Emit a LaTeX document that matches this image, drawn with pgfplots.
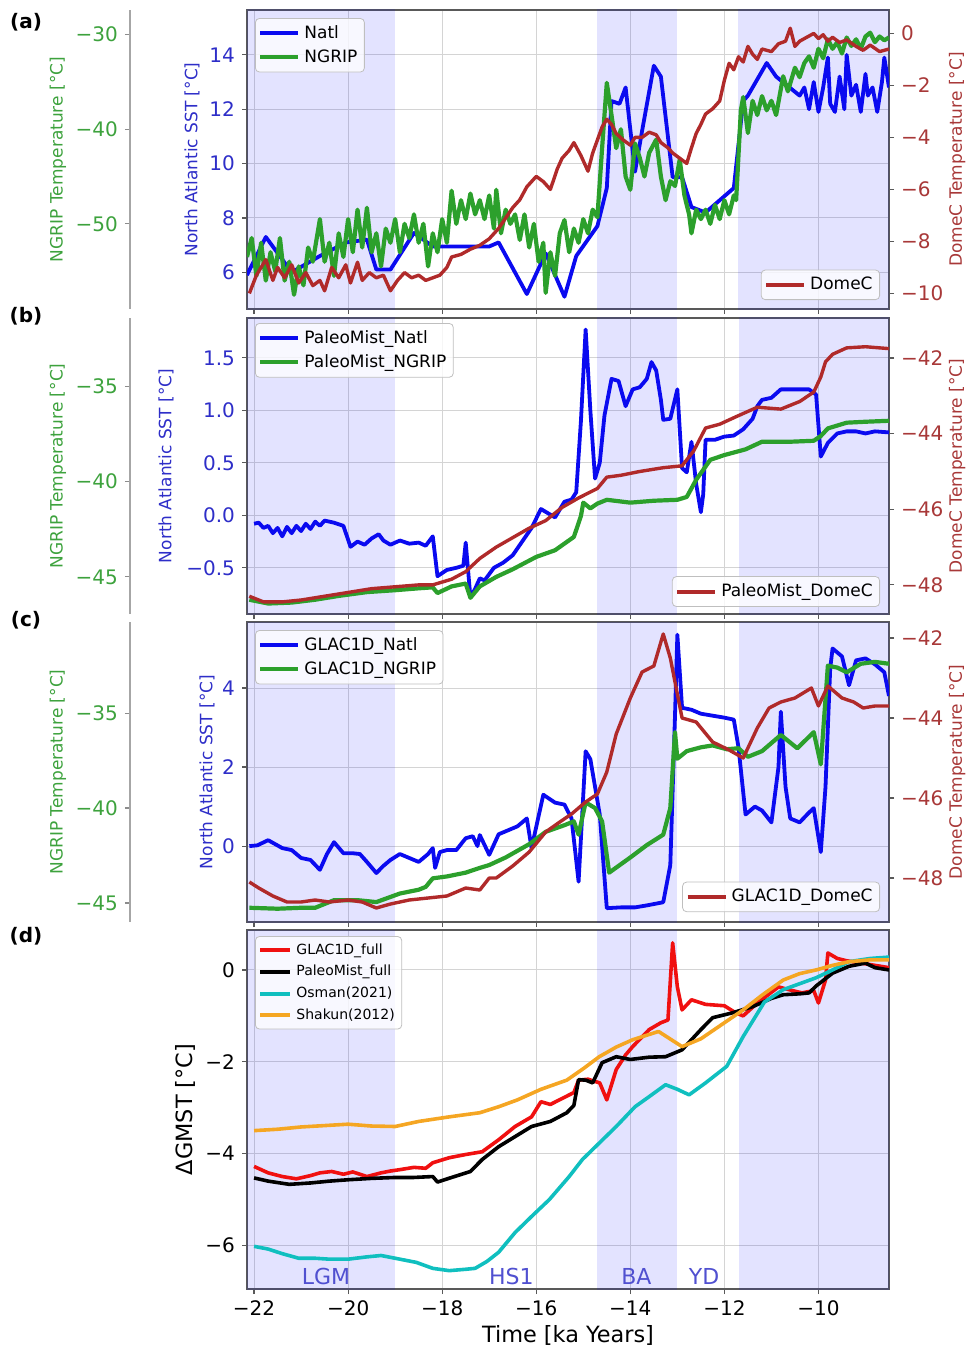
\documentclass[border=0pt]{standalone}
\usepackage{fontspec}
\setmainfont{DejaVu Sans}
\usepackage{pgfplots}
\pgfplotsset{compat=1.18}

\definecolor{natl}{HTML}{0A0AF0}
\definecolor{ngrip}{HTML}{2CA02C}
\definecolor{domec}{HTML}{B02A2A}
\definecolor{natlt}{HTML}{2E2EC8}
\definecolor{domect}{HTML}{A83838}
\definecolor{ngript}{HTML}{3DA23D}
\definecolor{shade}{HTML}{0000FF}
\definecolor{regc}{HTML}{5050D0}
\definecolor{dred}{HTML}{F01010}
\definecolor{dcyan}{HTML}{10BFBF}
\definecolor{dorange}{HTML}{F5A623}

\pgfplotsset{
 base/.style={scale only axis, width=321pt, xmin=-22.15, xmax=-8.5, anchor=north west,
   tick align=outside, major tick length=2.5pt,
   tick label style={font=\fontsize{10}{12}\selectfont},
   legend cell align=left,
   legend style={font=\fontsize{8.5}{10}\selectfont, draw=black!25, rounded corners=2pt, fill=white, fill opacity=0.8, text opacity=1, inner sep=1.5pt},
   legend image code/.code={\draw[#1, line width=2pt] (0pt,0pt) -- (19pt,0pt);}},
 main/.style={base, axis line style={black!65, line width=0.7pt}, grid=major, grid style={black!17, line width=0.5pt},
   xtick={-22,-20,...,-10}, tick pos=left, tick style={black!65, line width=0.6pt}},
 natlab/.style={every axis y label/.style={at={(axis description cs:#1,0.5)}, rotate=90, anchor=center, color=natlt, font=\fontsize{8.5}{10}\selectfont}},
 ng/.style={base, axis x line=none, axis y line*=left, axis y line shift=58.5pt,
   y axis line style={black!35, line width=0.7pt}, ytick style={black!45, line width=0.6pt},
   y tick label style={color=ngript},
   every axis y label/.style={at={(axis description cs:-0.2944,0.5)}, rotate=90, anchor=center, color=ngript, font=\fontsize{8.5}{10}\selectfont}},
 dc/.style={base, axis x line=none, axis y line*=right, y axis line style={draw=none},
   ytick style={black!65, line width=0.6pt}, y tick label style={color=domect},
   every axis y label/.style={at={(axis description cs:1.106,0.5)}, rotate=90, anchor=center, color=domect, font=\fontsize{8.5}{10}\selectfont}},
 natlL/.style={natl, line width=1.9pt, line join=round},
 ngL/.style={ngrip, line width=2.1pt, line join=round},
 dcL/.style={domec, line width=1.7pt, line join=round},
}
\newcommand{\shades}[2]{%
 \addplot[draw=none, fill=shade, fill opacity=0.11, forget plot] coordinates {(-22.5,#1) (-19,#1) (-19,#2) (-22.5,#2)};
 \addplot[draw=none, fill=shade, fill opacity=0.11, forget plot] coordinates {(-14.7,#1) (-13.0,#1) (-13.0,#2) (-14.7,#2)};
 \addplot[draw=none, fill=shade, fill opacity=0.11, forget plot] coordinates {(-11.7,#1) (-8,#1) (-8,#2) (-11.7,#2)};
}

\begin{document}
\begin{tikzpicture}
\useasboundingbox (0,0) rectangle (483.5pt,-674.5pt);

% ---------------- Panel a ----------------
\begin{axis}[main, natlab=-0.0857, at={(123.5pt,-5pt)}, height=149.5pt, ymin=4.65, ymax=15.65,
  ytick={6,8,10,12,14}, yticklabels={6,8,10,12,14}, xticklabels={},
  y tick label style={color=natlt}, ylabel={North Atlantic SST [°C]}]
\shades{0}{20}
\addplot[natlL] coordinates {(-22.15,5.9) (-21.75,7.3) (-21.2,6.0) (-20.6,6.6) (-20.04,7.1) (-19.6,7.2) (-19.4,6.1) (-19.1,6.1) (-18.6,7.45) (-18.2,6.95) (-17.0,6.95) (-16.8,7.1) (-16.2,5.2) (-15.8,6.7) (-15.4,5.1) (-15.15,6.6) (-14.7,7.7) (-14.5,9.1) (-14.4,12.3) (-14.23,12.2) (-14.1,12.8) (-13.9,9.7) (-13.75,11.2) (-13.5,13.6) (-13.35,13.2) (-13.1,9.5) (-12.9,9.5) (-12.7,8.4) (-12.4,8.2) (-11.8,9.1) (-11.6,12.3) (-11.5,12.5) (-11.1,13.7) (-10.9,13.2) (-10.4,12.5) (-10.3,12.8) (-10.2,12.0) (-10.1,13.0) (-10.0,11.9) (-9.9,12.8) (-9.8,13.9) (-9.75,12.2) (-9.65,11.9) (-9.55,13.2) (-9.45,12.0) (-9.4,14.0) (-9.3,12.5) (-9.2,12.9) (-9.1,11.9) (-9.0,13.3) (-8.95,12.5) (-8.85,12.8) (-8.75,11.9) (-8.65,13.0) (-8.6,13.9) (-8.5,12.8)};
\end{axis}
\begin{axis}[ng, at={(123.5pt,-5pt)}, height=149.5pt, ymin=-59, ymax=-27.4,
  ytick={-50,-40,-30}, yticklabels={−50,−40,−30}, ylabel={NGRIP Temperature [°C]},
  legend style={at={(0.0125,0.973)}, anchor=north west}]
\addlegendimage{natlL}\addlegendentry{Natl}
\addplot[ngL] coordinates {(-22.15,-53.5) (-22.05,-51.5) (-21.95,-55.5) (-21.85,-52) (-21.75,-56) (-21.65,-53) (-21.55,-55) (-21.45,-51.5) (-21.35,-56) (-21.25,-54) (-21.15,-57.5) (-21.05,-54.5) (-20.95,-56.5) (-20.85,-52.5) (-20.75,-54) (-20.6,-49.5) (-20.5,-54) (-20.4,-52) (-20.3,-55.5) (-20.2,-51) (-20.1,-53.5) (-20.0,-49.5) (-19.9,-53) (-19.8,-48.5) (-19.7,-52.5) (-19.6,-48.3) (-19.5,-53) (-19.4,-51) (-19.3,-54.5) (-19.2,-50.5) (-19.1,-52) (-19.0,-49.5) (-18.9,-53) (-18.8,-50) (-18.7,-51.5) (-18.6,-49) (-18.5,-52) (-18.4,-50) (-18.3,-54.5) (-18.2,-51) (-18.1,-53) (-18.0,-49.5) (-17.9,-52) (-17.8,-46.5) (-17.7,-50) (-17.6,-47.5) (-17.5,-49.5) (-17.4,-46.8) (-17.3,-49) (-17.2,-47.5) (-17.1,-49.5) (-17.0,-47) (-16.9,-50.5) (-16.85,-46.4) (-16.75,-51) (-16.65,-48.5) (-16.55,-50) (-16.45,-49) (-16.35,-51.7) (-16.25,-49) (-16.15,-52.5) (-16.05,-50) (-15.95,-54) (-15.85,-52) (-15.8,-57.3) (-15.7,-53) (-15.6,-55.5) (-15.5,-51) (-15.4,-49.6) (-15.3,-53) (-15.2,-50.5) (-15.1,-52) (-15.0,-49.5) (-14.9,-51) (-14.8,-48.5) (-14.7,-49.3) (-14.6,-42) (-14.5,-35.1) (-14.4,-38.5) (-14.3,-42) (-14.2,-40) (-14.1,-45) (-14.0,-46.4) (-13.9,-41.5) (-13.8,-43) (-13.7,-45) (-13.6,-42.5) (-13.45,-41.1) (-13.35,-45) (-13.25,-47.5) (-13.15,-45.5) (-13.05,-46) (-12.95,-43.2) (-12.85,-47) (-12.75,-49) (-12.7,-51) (-12.6,-48.5) (-12.5,-49.5) (-12.4,-48.5) (-12.3,-50) (-12.2,-48) (-12.1,-49.5) (-12.0,-47.5) (-11.9,-49) (-11.8,-47) (-11.75,-47.5) (-11.65,-38) (-11.6,-36.6) (-11.5,-40.4) (-11.4,-37) (-11.3,-38.5) (-11.2,-36.5) (-11.1,-38) (-11.0,-37) (-10.9,-38.5) (-10.75,-34.4) (-10.65,-36) (-10.5,-33.5) (-10.4,-34.5) (-10.3,-33) (-10.2,-32.3) (-10.1,-33.5) (-10.0,-31.5) (-9.9,-32.5) (-9.8,-30.5) (-9.7,-31.5) (-9.6,-30.8) (-9.5,-32) (-9.4,-30.3) (-9.3,-31.2) (-9.2,-30.5) (-9.1,-31.5) (-9.0,-30.2) (-8.9,-29.8) (-8.8,-30.8) (-8.7,-30.2) (-8.6,-30.6) (-8.5,-30.3)};
\addlegendentry{NGRIP}
\end{axis}
\begin{axis}[dc, at={(123.5pt,-5pt)}, height=149.5pt, ymin=-10.6, ymax=0.9,
  ytick={-10,-8,-6,-4,-2,0}, yticklabels={−10,−8,−6,−4,−2,0}, ylabel={DomeC Temperature [°C]},
  legend style={at={(0.986,0.03)}, anchor=south east}]
\addplot[dcL] coordinates {(-22.1,-10.0) (-21.95,-9.3) (-21.75,-8.7) (-21.6,-9.5) (-21.5,-9.0) (-21.35,-9.4) (-21.2,-8.9) (-21.05,-9.6) (-20.9,-9.2) (-20.75,-9.7) (-20.6,-9.5) (-20.5,-9.9) (-20.35,-9.0) (-20.2,-9.4) (-20.05,-8.9) (-19.95,-9.6) (-19.8,-8.8) (-19.7,-9.5) (-19.55,-9.2) (-19.4,-9.4) (-19.25,-9.3) (-19.1,-9.9) (-18.95,-9.5) (-18.8,-9.2) (-18.65,-9.4) (-18.5,-9.3) (-18.35,-9.5) (-18.2,-9.4) (-18.05,-9.3) (-17.9,-9.0) (-17.8,-8.6) (-17.6,-8.5) (-17.4,-8.3) (-17.2,-8.15) (-17.0,-7.9) (-16.8,-7.5) (-16.65,-7.1) (-16.5,-6.7) (-16.35,-6.4) (-16.2,-5.9) (-16.0,-5.5) (-15.85,-5.7) (-15.7,-6.0) (-15.55,-5.2) (-15.45,-4.8) (-15.3,-4.5) (-15.2,-4.2) (-15.05,-4.7) (-14.9,-5.3) (-14.8,-4.6) (-14.7,-4.1) (-14.6,-3.6) (-14.5,-3.3) (-14.4,-3.5) (-14.3,-3.85) (-14.15,-4.1) (-14.0,-4.3) (-13.9,-4.0) (-13.75,-4.0) (-13.6,-3.8) (-13.45,-3.9) (-13.35,-4.2) (-13.2,-4.4) (-13.1,-4.6) (-12.95,-4.8) (-12.8,-5.0) (-12.7,-4.4) (-12.6,-3.85) (-12.5,-3.5) (-12.4,-3.1) (-12.25,-2.9) (-12.1,-2.6) (-12.0,-1.8) (-11.9,-1.15) (-11.8,-1.4) (-11.7,-0.9) (-11.6,-1.1) (-11.5,-0.5) (-11.4,-0.8) (-11.3,-1.0) (-11.2,-0.6) (-11.0,-0.7) (-10.85,-0.4) (-10.7,-0.3) (-10.6,0.2) (-10.5,-0.5) (-10.4,-0.3) (-10.25,-0.15) (-10.1,0.0) (-10.0,-0.2) (-9.9,-0.05) (-9.8,-0.3) (-9.7,-0.15) (-9.55,-0.35) (-9.4,-0.25) (-9.2,-0.5) (-9.05,-0.65) (-8.9,-0.45) (-8.7,-0.7) (-8.5,-0.6)};
\addlegendentry{DomeC}
\end{axis}

% ---------------- Panel b ----------------
\begin{axis}[main, natlab=-0.126, at={(123.5pt,-159pt)}, height=148pt, ymin=-0.94, ymax=1.88,
  ytick={-0.5,0,0.5,1,1.5}, yticklabels={−0.5,0.0,0.5,1.0,1.5}, xticklabels={},
  y tick label style={color=natlt}, ylabel={North Atlantic SST [°C]}]
\shades{-5}{5}
\addplot[natlL] coordinates {(-22.0,-0.08) (-21.9,-0.07) (-21.8,-0.12) (-21.7,-0.1) (-21.6,-0.17) (-21.5,-0.12) (-21.4,-0.2) (-21.3,-0.11) (-21.2,-0.17) (-21.1,-0.1) (-21.0,-0.15) (-20.9,-0.08) (-20.8,-0.13) (-20.7,-0.06) (-20.6,-0.1) (-20.5,-0.05) (-20.3,-0.07) (-20.1,-0.1) (-19.95,-0.3) (-19.8,-0.25) (-19.65,-0.28) (-19.5,-0.22) (-19.35,-0.18) (-19.25,-0.24) (-19.1,-0.28) (-18.9,-0.24) (-18.7,-0.27) (-18.5,-0.26) (-18.35,-0.29) (-18.2,-0.2) (-18.1,-0.58) (-17.9,-0.52) (-17.7,-0.5) (-17.55,-0.48) (-17.5,-0.26) (-17.4,-0.78) (-17.3,-0.7) (-17.2,-0.6) (-17.1,-0.62) (-16.9,-0.5) (-16.7,-0.45) (-16.5,-0.38) (-16.3,-0.25) (-16.1,-0.12) (-15.9,0.06) (-15.75,0.02) (-15.6,-0.02) (-15.4,0.13) (-15.25,0.15) (-15.15,0.22) (-15.05,0.9) (-14.95,1.77) (-14.85,1.0) (-14.75,0.35) (-14.65,0.5) (-14.55,0.95) (-14.4,1.3) (-14.25,1.28) (-14.1,1.04) (-13.95,1.2) (-13.8,1.22) (-13.65,1.3) (-13.55,1.46) (-13.45,1.38) (-13.35,1.1) (-13.3,0.91) (-13.15,0.92) (-13.0,1.2) (-12.9,0.45) (-12.8,0.41) (-12.7,0.7) (-12.6,0.3) (-12.5,0.03) (-12.45,0.2) (-12.4,0.72) (-12.2,0.72) (-12.0,0.75) (-11.8,0.76) (-11.6,0.82) (-11.4,0.92) (-11.3,1.04) (-11.2,1.1) (-11.0,1.12) (-10.8,1.2) (-10.5,1.2) (-10.2,1.2) (-10.05,1.15) (-9.95,0.56) (-9.8,0.69) (-9.6,0.78) (-9.4,0.8) (-9.2,0.8) (-9.0,0.78) (-8.8,0.8) (-8.5,0.79)};
\end{axis}
\begin{axis}[ng, at={(123.5pt,-159pt)}, height=148pt, ymin=-46.95, ymax=-31.4,
  ytick={-45,-40,-35}, yticklabels={−45,−40,−35}, ylabel={NGRIP Temperature [°C]},
  legend style={at={(0.0125,0.983)}, anchor=north west}]
\addlegendimage{natlL}\addlegendentry{PaleoMist\_Natl}
\addplot[ngL] coordinates {(-22.1,-46.2) (-21.7,-46.4) (-21.2,-46.35) (-20.7,-46.2) (-20.2,-46.0) (-19.6,-45.8) (-19.0,-45.7) (-18.5,-45.6) (-18.2,-45.55) (-18.1,-45.85) (-17.8,-45.5) (-17.5,-45.35) (-17.4,-46.1) (-17.2,-45.5) (-16.85,-45.0) (-16.5,-44.6) (-16.0,-43.95) (-15.6,-43.6) (-15.2,-42.9) (-15.05,-41.8) (-15.0,-41.1) (-14.85,-41.4) (-14.7,-41.15) (-14.5,-40.95) (-14.0,-41.1) (-13.5,-41.0) (-13.0,-40.95) (-12.8,-40.8) (-12.6,-39.9) (-12.3,-38.85) (-12.0,-38.6) (-11.55,-38.3) (-11.2,-37.9) (-10.6,-37.9) (-10.1,-37.85) (-9.95,-37.6) (-9.8,-37.2) (-9.4,-36.9) (-9.0,-36.85) (-8.5,-36.8)};
\addlegendentry{PaleoMist\_NGRIP}
\end{axis}
\begin{axis}[dc, at={(123.5pt,-159pt)}, height=148pt, ymin=-48.77, ymax=-40.94,
  ytick={-48,-46,-44,-42}, yticklabels={−48,−46,−44,−42}, ylabel={DomeC Temperature [°C]},
  legend style={at={(0.986,0.024)}, anchor=south east}]
\addplot[dcL] coordinates {(-22.1,-48.3) (-21.8,-48.45) (-21.4,-48.45) (-21.0,-48.4) (-20.5,-48.3) (-20.0,-48.2) (-19.5,-48.1) (-19.0,-48.05) (-18.5,-48.0) (-18.2,-48.0) (-17.8,-47.85) (-17.5,-47.65) (-17.2,-47.3) (-16.85,-47.0) (-16.5,-46.75) (-16.15,-46.5) (-15.8,-46.3) (-15.45,-45.95) (-15.1,-45.7) (-14.7,-45.45) (-14.5,-45.15) (-14.2,-45.1) (-13.8,-45.0) (-13.3,-44.9) (-12.9,-44.85) (-12.65,-44.45) (-12.4,-43.85) (-12.1,-43.75) (-11.75,-43.55) (-11.3,-43.3) (-10.8,-43.35) (-10.4,-43.15) (-10.1,-42.9) (-9.95,-42.5) (-9.85,-42.1) (-9.7,-41.9) (-9.4,-41.73) (-9.0,-41.7) (-8.5,-41.75)};
\addlegendentry{PaleoMist\_DomeC}
\end{axis}

% ---------------- Panel c ----------------
\begin{axis}[main, natlab=-0.0623, at={(123.5pt,-311pt)}, height=150pt, ymin=-1.92, ymax=5.67,
  ytick={0,2,4}, yticklabels={0,2,4}, xticklabels={},
  y tick label style={color=natlt}, ylabel={North Atlantic SST [°C]}]
\shades{-10}{10}
\addplot[natlL] coordinates {(-22.1,0.0) (-21.93,0.02) (-21.7,0.15) (-21.55,0.05) (-21.4,-0.05) (-21.2,-0.1) (-21.0,-0.3) (-20.8,-0.35) (-20.6,-0.6) (-20.45,-0.2) (-20.3,0.1) (-20.1,-0.18) (-19.9,-0.18) (-19.75,-0.2) (-19.6,-0.4) (-19.4,-0.68) (-19.25,-0.5) (-19.1,-0.35) (-18.9,-0.2) (-18.7,-0.3) (-18.5,-0.4) (-18.3,-0.2) (-18.2,-0.05) (-18.15,-0.55) (-18.05,-0.15) (-17.9,-0.1) (-17.7,-0.1) (-17.5,0.2) (-17.35,0.25) (-17.25,0.0) (-17.2,0.28) (-17.0,-0.22) (-16.8,0.3) (-16.6,0.4) (-16.4,0.5) (-16.2,0.7) (-16.1,-0.05) (-15.85,1.3) (-15.6,1.1) (-15.4,1.05) (-15.25,0.7) (-15.1,-0.9) (-14.95,2.4) (-14.85,2.2) (-14.65,0.8) (-14.5,-1.57) (-14.2,-1.55) (-13.9,-1.55) (-13.65,-1.5) (-13.3,-1.42) (-13.15,-0.48) (-13.05,3.3) (-13.0,5.35) (-12.9,3.5) (-12.7,3.45) (-12.5,3.35) (-12.25,3.3) (-12.0,3.25) (-11.8,3.2) (-11.7,2.5) (-11.55,0.8) (-11.35,1.0) (-11.2,0.9) (-11.0,0.6) (-10.85,2.0) (-10.8,3.4) (-10.7,1.5) (-10.6,0.7) (-10.4,0.6) (-10.2,0.85) (-10.1,0.96) (-9.95,-0.15) (-9.85,1.5) (-9.75,4.5) (-9.7,5.0) (-9.5,4.8) (-9.35,4.07) (-9.2,4.7) (-9.0,4.75) (-8.8,4.6) (-8.6,4.4) (-8.5,3.8)};
\end{axis}
\begin{axis}[ng, at={(123.5pt,-311pt)}, height=150pt, ymin=-46, ymax=-30.2,
  ytick={-45,-40,-35}, yticklabels={−45,−40,−35}, ylabel={NGRIP Temperature [°C]},
  legend style={at={(0.0125,0.973)}, anchor=north west}]
\addlegendimage{natlL}\addlegendentry{GLAC1D\_Natl}
\addplot[ngL] coordinates {(-22.1,-45.25) (-21.5,-45.3) (-21.0,-45.25) (-20.7,-45.25) (-20.3,-44.85) (-19.8,-44.85) (-19.4,-44.95) (-18.9,-44.5) (-18.5,-44.3) (-18.35,-44.15) (-18.2,-43.7) (-17.9,-43.6) (-17.5,-43.4) (-17.2,-43.15) (-17.0,-43.0) (-16.65,-42.6) (-16.15,-41.9) (-15.8,-41.25) (-15.4,-40.9) (-15.2,-40.7) (-15.1,-41.4) (-14.95,-39.7) (-14.75,-40.0) (-14.6,-40.7) (-14.45,-43.4) (-14.0,-42.6) (-13.65,-41.95) (-13.3,-41.4) (-13.15,-40.0) (-13.05,-36.0) (-13.0,-37.4) (-12.8,-37.0) (-12.5,-36.8) (-12.25,-36.7) (-11.95,-36.9) (-11.7,-36.85) (-11.5,-37.3) (-11.2,-37.0) (-10.8,-36.15) (-10.45,-36.85) (-10.1,-36.0) (-9.95,-37.7) (-9.8,-32.5) (-9.6,-32.6) (-9.4,-32.85) (-9.1,-32.4) (-8.8,-32.3) (-8.5,-32.4)};
\addlegendentry{GLAC1D\_NGRIP}
\end{axis}
\begin{axis}[dc, at={(123.5pt,-311pt)}, height=150pt, ymin=-49.1, ymax=-41.6,
  ytick={-48,-46,-44,-42}, yticklabels={−48,−46,−44,−42}, ylabel={DomeC Temperature [°C]},
  legend style={at={(0.986,0.033)}, anchor=south east}]
\addplot[dcL] coordinates {(-22.1,-48.1) (-21.9,-48.25) (-21.6,-48.45) (-21.3,-48.6) (-21.0,-48.6) (-20.7,-48.55) (-20.4,-48.6) (-20.0,-48.55) (-19.7,-48.6) (-19.4,-48.75) (-19.1,-48.65) (-18.7,-48.55) (-18.3,-48.5) (-17.9,-48.45) (-17.5,-48.25) (-17.2,-48.3) (-17.0,-48.0) (-16.85,-48.0) (-16.5,-47.7) (-16.15,-47.35) (-15.8,-46.85) (-15.5,-46.6) (-15.25,-46.4) (-14.95,-46.1) (-14.7,-45.9) (-14.5,-45.35) (-14.3,-44.4) (-14.0,-43.5) (-13.75,-42.85) (-13.5,-42.7) (-13.3,-41.9) (-13.15,-42.5) (-13.0,-43.4) (-12.9,-44.0) (-12.6,-44.1) (-12.25,-44.6) (-11.9,-44.8) (-11.6,-45.0) (-11.3,-44.25) (-11.05,-43.75) (-10.8,-43.6) (-10.5,-43.5) (-10.15,-43.25) (-10.0,-43.7) (-9.8,-43.2) (-9.5,-43.5) (-9.25,-43.6) (-9.05,-43.75) (-8.8,-43.7) (-8.5,-43.7)};
\addlegendentry{GLAC1D\_DomeC}
\end{axis}

% ---------------- Panel d ----------------
\begin{axis}[main, at={(123.5pt,-465pt)}, height=179.5pt, ymin=-6.95, ymax=0.87,
  ytick={-6,-4,-2,0}, yticklabels={−6,−4,−2,0},
  xticklabels={−22,−20,−18,−16,−14,−12,−10},
  ylabel={ΔGMST [°C]}, xlabel={Time [ka Years]},
  every axis y label/.style={at={(axis description cs:-0.0966,0.5)}, rotate=90, anchor=center, font=\fontsize{11.2}{13}\selectfont},
  every axis x label/.style={at={(axis description cs:0.5,-0.128)}, anchor=center, font=\fontsize{11.2}{13}\selectfont},
  legend style={at={(0.0125,0.983)}, anchor=north west, font=\fontsize{7}{8.4}\selectfont},
  legend image code/.code={\draw[#1, line width=2pt] (0pt,0pt) -- (15pt,0pt);}]
\shades{-10}{5}
\addplot[dred, line width=1.8pt, line join=round] coordinates {(-22.0,-4.28) (-21.7,-4.42) (-21.4,-4.5) (-21.1,-4.55) (-20.8,-4.48) (-20.6,-4.42) (-20.35,-4.39) (-20.1,-4.45) (-19.9,-4.4) (-19.6,-4.5) (-19.3,-4.42) (-19.1,-4.38) (-18.9,-4.35) (-18.6,-4.3) (-18.35,-4.32) (-18.2,-4.2) (-17.85,-4.09) (-17.5,-4.02) (-17.15,-3.96) (-16.8,-3.7) (-16.45,-3.41) (-16.1,-3.2) (-15.9,-2.87) (-15.7,-2.93) (-15.45,-2.8) (-15.2,-2.67) (-15.1,-2.4) (-14.9,-2.38) (-14.65,-2.46) (-14.5,-2.83) (-14.3,-2.17) (-14.1,-1.85) (-13.95,-1.67) (-13.6,-1.3) (-13.35,-1.15) (-13.2,-1.09) (-13.1,0.59) (-13.0,-0.37) (-12.9,-0.87) (-12.7,-0.65) (-12.4,-0.75) (-12.0,-0.78) (-11.75,-0.94) (-11.6,-1.0) (-11.3,-0.72) (-10.85,-0.37) (-10.55,-0.45) (-10.35,-0.5) (-10.1,-0.45) (-10.0,-0.72) (-9.85,-0.22) (-9.8,0.37) (-9.6,0.25) (-9.4,0.2) (-9.1,0.15) (-8.8,0.1) (-8.5,0.05)};
\addlegendentry{GLAC1D\_full}
\addplot[black, line width=1.8pt, line join=round] coordinates {(-22.0,-4.53) (-21.7,-4.6) (-21.25,-4.67) (-20.8,-4.64) (-20.4,-4.6) (-20.0,-4.57) (-19.5,-4.54) (-19.0,-4.52) (-18.6,-4.52) (-18.2,-4.5) (-18.1,-4.62) (-17.8,-4.52) (-17.4,-4.39) (-17.15,-4.13) (-16.8,-3.85) (-16.45,-3.63) (-16.1,-3.41) (-15.7,-3.3) (-15.35,-3.11) (-15.2,-2.95) (-15.1,-2.39) (-14.95,-2.4) (-14.8,-2.46) (-14.6,-2.02) (-14.3,-1.89) (-14.0,-1.95) (-13.6,-1.9) (-13.25,-1.89) (-12.9,-1.74) (-12.7,-1.52) (-12.5,-1.3) (-12.25,-1.04) (-11.85,-0.94) (-11.4,-0.8) (-11.0,-0.62) (-10.75,-0.54) (-10.4,-0.52) (-10.2,-0.5) (-10.05,-0.35) (-9.7,-0.07) (-9.35,0.08) (-9.0,0.15) (-8.8,0.05) (-8.5,0.0)};
\addlegendentry{PaleoMist\_full}
\addplot[dcyan, line width=1.8pt, line join=round] coordinates {(-22.0,-6.02) (-21.7,-6.08) (-21.4,-6.18) (-21.05,-6.28) (-20.7,-6.28) (-20.4,-6.3) (-20.0,-6.3) (-19.6,-6.25) (-19.3,-6.22) (-18.9,-6.3) (-18.55,-6.37) (-18.2,-6.5) (-17.85,-6.55) (-17.5,-6.52) (-17.3,-6.5) (-17.05,-6.35) (-16.8,-6.15) (-16.45,-5.72) (-16.1,-5.37) (-15.72,-5.0) (-15.3,-4.5) (-15.02,-4.13) (-14.66,-3.77) (-14.3,-3.41) (-13.9,-2.98) (-13.6,-2.76) (-13.25,-2.5) (-13.0,-2.6) (-12.75,-2.72) (-12.4,-2.46) (-11.95,-2.1) (-11.6,-1.45) (-11.15,-0.7) (-10.75,-0.43) (-10.4,-0.3) (-10.05,-0.17) (-9.7,0.0) (-9.35,0.18) (-8.9,0.25) (-8.5,0.28)};
\addlegendentry{Osman(2021)}
\addplot[dorange, line width=1.8pt, line join=round] coordinates {(-22.0,-3.5) (-21.5,-3.47) (-21.0,-3.42) (-20.5,-3.39) (-20.0,-3.36) (-19.5,-3.4) (-19.0,-3.41) (-18.5,-3.3) (-17.85,-3.2) (-17.2,-3.11) (-16.8,-2.98) (-16.4,-2.83) (-15.9,-2.6) (-15.35,-2.4) (-15.0,-2.15) (-14.66,-1.89) (-14.3,-1.68) (-13.95,-1.52) (-13.4,-1.34) (-12.9,-1.67) (-12.5,-1.5) (-12.0,-1.15) (-11.6,-0.87) (-11.2,-0.55) (-10.75,-0.22) (-10.4,-0.08) (-10.05,0.0) (-9.7,0.1) (-9.35,0.18) (-8.9,0.22) (-8.5,0.22)};
\addlegendentry{Shakun(2012)}
\node[text=regc, font=\fontsize{11}{13}\selectfont] at (axis cs:-20.47,-6.67) {LGM};
\node[text=regc, font=\fontsize{11}{13}\selectfont] at (axis cs:-16.53,-6.67) {HS1};
\node[text=regc, font=\fontsize{11}{13}\selectfont] at (axis cs:-13.87,-6.67) {BA};
\node[text=regc, font=\fontsize{11}{13}\selectfont] at (axis cs:-12.43,-6.67) {YD};
\end{axis}

\node[font=\bfseries\fontsize{10}{12}\selectfont] at (13pt,-11pt) {(a)};
\node[font=\bfseries\fontsize{10}{12}\selectfont] at (13pt,-158pt) {(b)};
\node[font=\bfseries\fontsize{10}{12}\selectfont] at (13pt,-310pt) {(c)};
\node[font=\bfseries\fontsize{10}{12}\selectfont] at (13pt,-468pt) {(d)};
\end{tikzpicture}
\end{document}
